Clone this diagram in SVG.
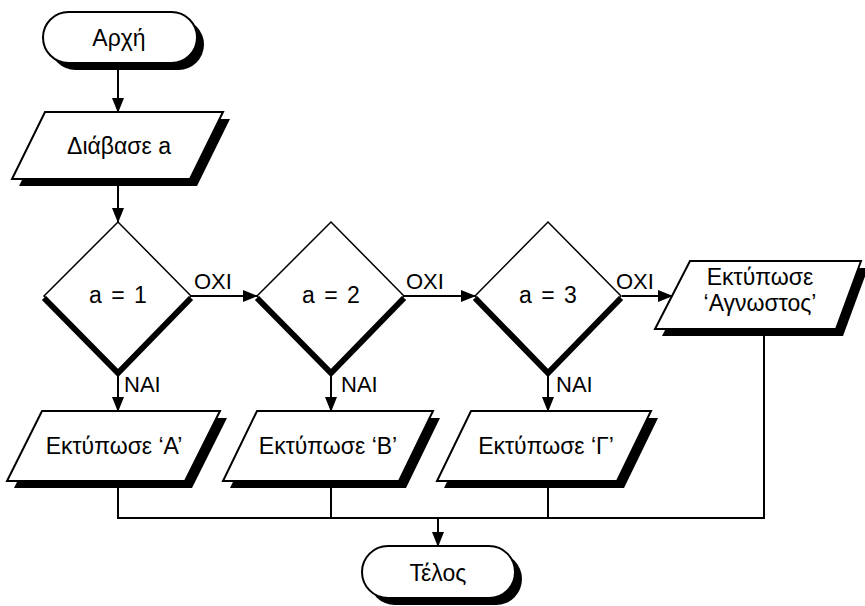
<svg xmlns="http://www.w3.org/2000/svg" width="865" height="606" viewBox="0 0 865 606">
<style>
.sh{fill:#000;stroke:none}
.bx{fill:#fff;stroke:#000;stroke-width:2;stroke-linejoin:miter}
.dm{fill:#fff;stroke:#000;stroke-width:1.5}
.th{fill:none;stroke:#000;stroke-width:6;stroke-linejoin:miter;stroke-linecap:butt}
.cn{fill:none;stroke:#000;stroke-width:2}
.t{font-family:"Liberation Sans",Arial,sans-serif;font-size:23px;fill:#000;text-anchor:middle}
.e{word-spacing:3px}
.l{font-family:"Liberation Sans",Arial,sans-serif;font-size:22px;fill:#000}
</style>
<defs>
<marker id="ah" markerUnits="userSpaceOnUse" markerWidth="15" markerHeight="12" refX="14" refY="6" orient="auto">
<path d="M0,0 L15,6 L0,12 z" fill="#000"/>
</marker>
</defs>
<g id="connectors">
<path class="cn" d="M118,63 V112" marker-end="url(#ah)"/>
<path class="cn" d="M118,179 V222" marker-end="url(#ah)"/>
<path class="cn" d="M191,296 H257" marker-end="url(#ah)"/>
<path class="cn" d="M404,296 H475" marker-end="url(#ah)"/>
<path class="cn" d="M622,296 H672" marker-end="url(#ah)"/>
<path class="cn" d="M118,372 V411" marker-end="url(#ah)"/>
<path class="cn" d="M331,372 V411" marker-end="url(#ah)"/>
<path class="cn" d="M548,372 V411" marker-end="url(#ah)"/>
<path class="cn" d="M118,481 V518 H764 V329"/>
<path class="cn" d="M331,481 V518"/>
<path class="cn" d="M548,481 V518"/>
<path class="cn" d="M438,518 V546" marker-end="url(#ah)"/>
<text class="l" x="194" y="289">OXI</text>
<text class="l" x="406" y="289">OXI</text>
<text class="l" x="616" y="289">OXI</text>
<text class="l" x="124" y="392">NAI</text>
<text class="l" x="341" y="392">NAI</text>
<text class="l" x="556" y="392">NAI</text>
</g>
<g id="start">
<rect class="sh" x="50" y="19" width="154" height="51" rx="25.5"/>
<rect class="bx" x="43" y="12" width="154" height="51" rx="25.5"/>
<text class="t" x="119" y="46">Αρχή</text>
</g>
<g id="read">
<polygon class="sh" points="52,119 230,119 197,186 19,186"/>
<polygon class="bx" points="45,112 223,112 190,179 12,179"/>
<text class="t" x="119" y="154">Διάβασε a</text>
</g>
<g id="d1">
<polygon class="dm" points="118,222 191,296 118,371 44,296"/>
<polyline class="th" points="44,298 118,373 191,298"/>
<text class="t e" x="118" y="303">a = 1</text>
</g>
<g id="d2">
<polygon class="dm" points="331,222 404,296 331,371 257,296"/>
<polyline class="th" points="257,298 331,373 404,298"/>
<text class="t e" x="331" y="303">a = 2</text>
</g>
<g id="d3">
<polygon class="dm" points="548,222 621,296 548,371 475,296"/>
<polyline class="th" points="475,298 548,373 621,298"/>
<text class="t e" x="548" y="303">a = 3</text>
</g>
<g id="pA">
<polygon class="sh" points="49,418 227,418 192,488 14,488"/>
<polygon class="bx" points="42,411 220,411 185,481 7,481"/>
<text class="t" x="114" y="454">Εκτύπωσε ‘Α’</text>
</g>
<g id="pB">
<polygon class="sh" points="264,418 440,418 406,488 230,488"/>
<polygon class="bx" points="257,411 433,411 399,481 223,481"/>
<text class="t" x="328" y="454">Εκτύπωσε ‘Β’</text>
</g>
<g id="pG">
<polygon class="sh" points="478,418 658,418 624,488 444,488"/>
<polygon class="bx" points="471,411 651,411 617,481 437,481"/>
<text class="t" x="546" y="454">Εκτύπωσε ‘Γ’</text>
</g>
<g id="pUnknown">
<polygon class="sh" points="697,268 868,268 843,336 662,336"/>
<polygon class="bx" points="690,261 861,261 836,329 655,329"/>
<text class="t" x="760" y="285">Εκτύπωσε</text>
<text class="t" x="760" y="311">‘Αγνωστος’</text>
</g>
<g id="end">
<rect class="sh" x="369" y="553" width="153" height="52" rx="26"/>
<rect class="bx" x="362" y="546" width="153" height="52" rx="26"/>
<text class="t" x="438" y="581">Τέλος</text>
</g>
</svg>
